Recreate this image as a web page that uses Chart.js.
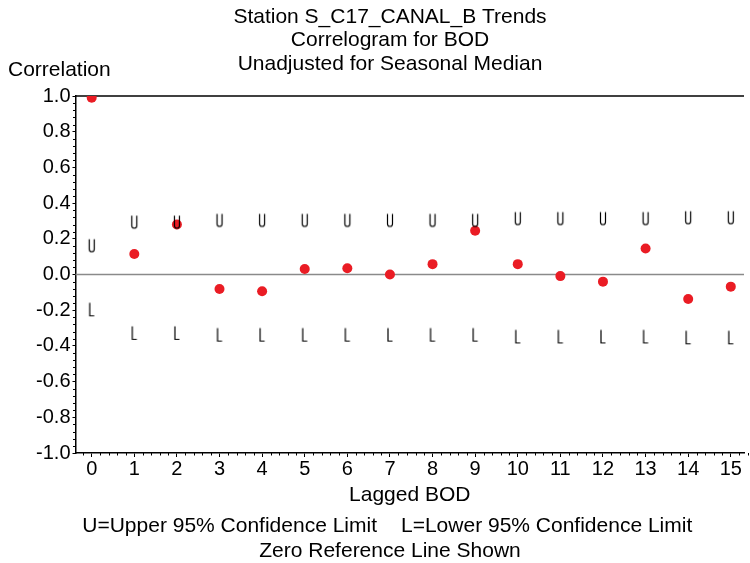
<!DOCTYPE html>
<html>
<head>
<meta charset="utf-8">
<script src="https://cdn.jsdelivr.net/npm/chart.js@4.4.1/dist/chart.umd.min.js"></script>
<style>
  html, body { margin: 0; padding: 0; background: #fff; }
  #wrap { width: 750px; height: 563px; position: relative; }
</style>
</head>
<body>
<div id="wrap"><canvas id="chart"></canvas></div>
<script>
// Lags and autocorrelations
const lags = [0, 1, 2, 3, 4, 5, 6, 7, 8, 9, 10, 11, 12, 13, 14, 15];
const correlation = [0.99, 0.115, 0.28, -0.081, -0.094, 0.031, 0.035, 0.0, 0.058, 0.245, 0.058, -0.009, -0.04, 0.146, -0.137, -0.068];
const upperLimit = [0.178, 0.31, 0.31, 0.32, 0.32, 0.32, 0.32, 0.32, 0.32, 0.32, 0.33, 0.33, 0.33, 0.33, 0.335, 0.335];
const lowerLimit = [-0.178, -0.31, -0.31, -0.32, -0.32, -0.32, -0.32, -0.32, -0.32, -0.32, -0.33, -0.33, -0.33, -0.33, -0.335, -0.335];
const yTicks = [-1.0, -0.8, -0.6, -0.4, -0.2, 0.0, 0.2, 0.4, 0.6, 0.8, 1.0];

const titleLines = ["Station S_C17_CANAL_B Trends", "Correlogram for BOD", "Unadjusted for Seasonal Median"];
const footLeft = "U=Upper 95% Confidence Limit";
const footRight = "L=Lower 95% Confidence Limit";
const footNote = "Zero Reference Line Shown";

const FONT = "'Liberation Sans', Arial, sans-serif";

// small "U" / "L" glyphs used as point markers (drawn a bit below the value, like the original)
function glyph(letter) {
  const c = document.createElement("canvas");
  c.width = 10;
  c.height = 34;
  const g = c.getContext("2d");
  g.strokeStyle = "#000";
  g.lineWidth = 1.2;
  g.beginPath();
  if (letter === "U") {
    g.moveTo(2.5, 13.5);
    g.lineTo(2.5, 23.5);
    g.arc(5, 23.5, 2.5, Math.PI, 0, true);
    g.lineTo(7.5, 13.5);
  } else {
    g.moveTo(3, 13.5);
    g.lineTo(3, 26.5);
    g.lineTo(7.5, 26.5);
  }
  g.stroke();
  return c;
}

const pts = (vals) => lags.map((x, i) => ({ x: x, y: vals[i] }));

const decor = {
  id: "decor",
  beforeDatasetsDraw(chart) {
    const { ctx, chartArea: a, scales: { x, y } } = chart;
    ctx.save();
    // zero reference line
    ctx.strokeStyle = "#8a8a8a";
    ctx.lineWidth = 1.5;
    ctx.beginPath();
    ctx.moveTo(a.left, y.getPixelForValue(0));
    ctx.lineTo(a.right, y.getPixelForValue(0));
    ctx.stroke();
    // top frame line
    ctx.strokeStyle = "#000";
    ctx.lineWidth = 1.5;
    ctx.beginPath();
    ctx.moveTo(a.left, a.top);
    ctx.lineTo(a.right, a.top);
    ctx.stroke();
    // minor ticks
    ctx.lineWidth = 1;
    ctx.beginPath();
    for (let v = -0.2; v < 15.4; v += 0.2) {
      if (Math.abs(v - Math.round(v)) < 0.01) continue;
      const px = Math.round(x.getPixelForValue(v)) + 0.5;
      ctx.moveTo(px, a.bottom);
      ctx.lineTo(px, a.bottom + 2.5);
    }
    for (let v = -1; v < 1; v += 0.04) {
      if (Math.abs(v * 5 - Math.round(v * 5)) < 0.01) continue;
      const py = Math.round(y.getPixelForValue(v)) + 0.5;
      ctx.moveTo(a.left, py);
      ctx.lineTo(a.left - 2.5, py);
    }
    ctx.stroke();
    ctx.restore();
  },
  afterDraw(chart) {
    const { ctx, chartArea: a } = chart;
    ctx.save();
    ctx.fillStyle = "#000";
    ctx.textBaseline = "middle";
    ctx.font = "21px " + FONT;
    ctx.textAlign = "center";
    titleLines.forEach((t, i) => ctx.fillText(t, 390, 17 + i * 23.5));
    ctx.fillText("Lagged BOD", (a.left + a.right) / 2, 495);
    ctx.fillText(footNote, 390, 551);
    ctx.textAlign = "right";
    ctx.fillText(footLeft, 377, 526);
    ctx.textAlign = "left";
    ctx.fillText(footRight, 401, 526);
    ctx.fillText("Correlation", 8, 70);
    ctx.restore();
  }
};

new Chart(document.getElementById("chart"), {
  type: "scatter",
  data: {
    datasets: [
      {
        label: "Upper",
        data: pts(upperLimit),
        pointStyle: glyph("U"),
        pointRadius: 5
      },
      {
        label: "Lower",
        data: pts(lowerLimit),
        pointStyle: glyph("L"),
        pointRadius: 5
      },
      {
        label: "Correlation",
        data: pts(correlation),
        pointStyle: "circle",
        pointRadius: 5,
        backgroundColor: "#ea1c24",
        borderColor: "#ea1c24",
        borderWidth: 0
      }
    ]
  },
  plugins: [decor],
  options: {
    responsive: true,
    maintainAspectRatio: false,
    animation: false,
    events: [],
    layout: { padding: { top: 96, right: 0, left: 0, bottom: 0 } },
    plugins: {
      legend: { display: false },
      tooltip: { enabled: false },
      title: { display: false }
    },
    scales: {
      x: {
        type: "linear",
        min: -0.38,
        max: 15.31,
        afterFit: (s) => { s.height = 110; },
        ticks: {
          stepSize: 1,
          includeBounds: false,
          color: "#000",
          font: { family: FONT, size: 20 },
          padding: 0,
          maxRotation: 0
        },
        grid: { drawOnChartArea: false, color: "#000", tickLength: 4 },
        border: { color: "#000", width: 1.5 }
      },
      y: {
        min: -1,
        max: 1,
        afterFit: (s) => { s.width = 75.5; },
        afterBuildTicks: (s) => { s.ticks = yTicks.map((v) => ({ value: v })); },
        ticks: {
          color: "#000",
          font: { family: FONT, size: 20 },
          padding: 2,
          callback: (v) => Number(v).toFixed(1)
        },
        grid: { drawOnChartArea: false, color: "#000", tickLength: 3 },
        border: { color: "#000", width: 1.5 }
      }
    }
  }
});
</script>
</body>
</html>
